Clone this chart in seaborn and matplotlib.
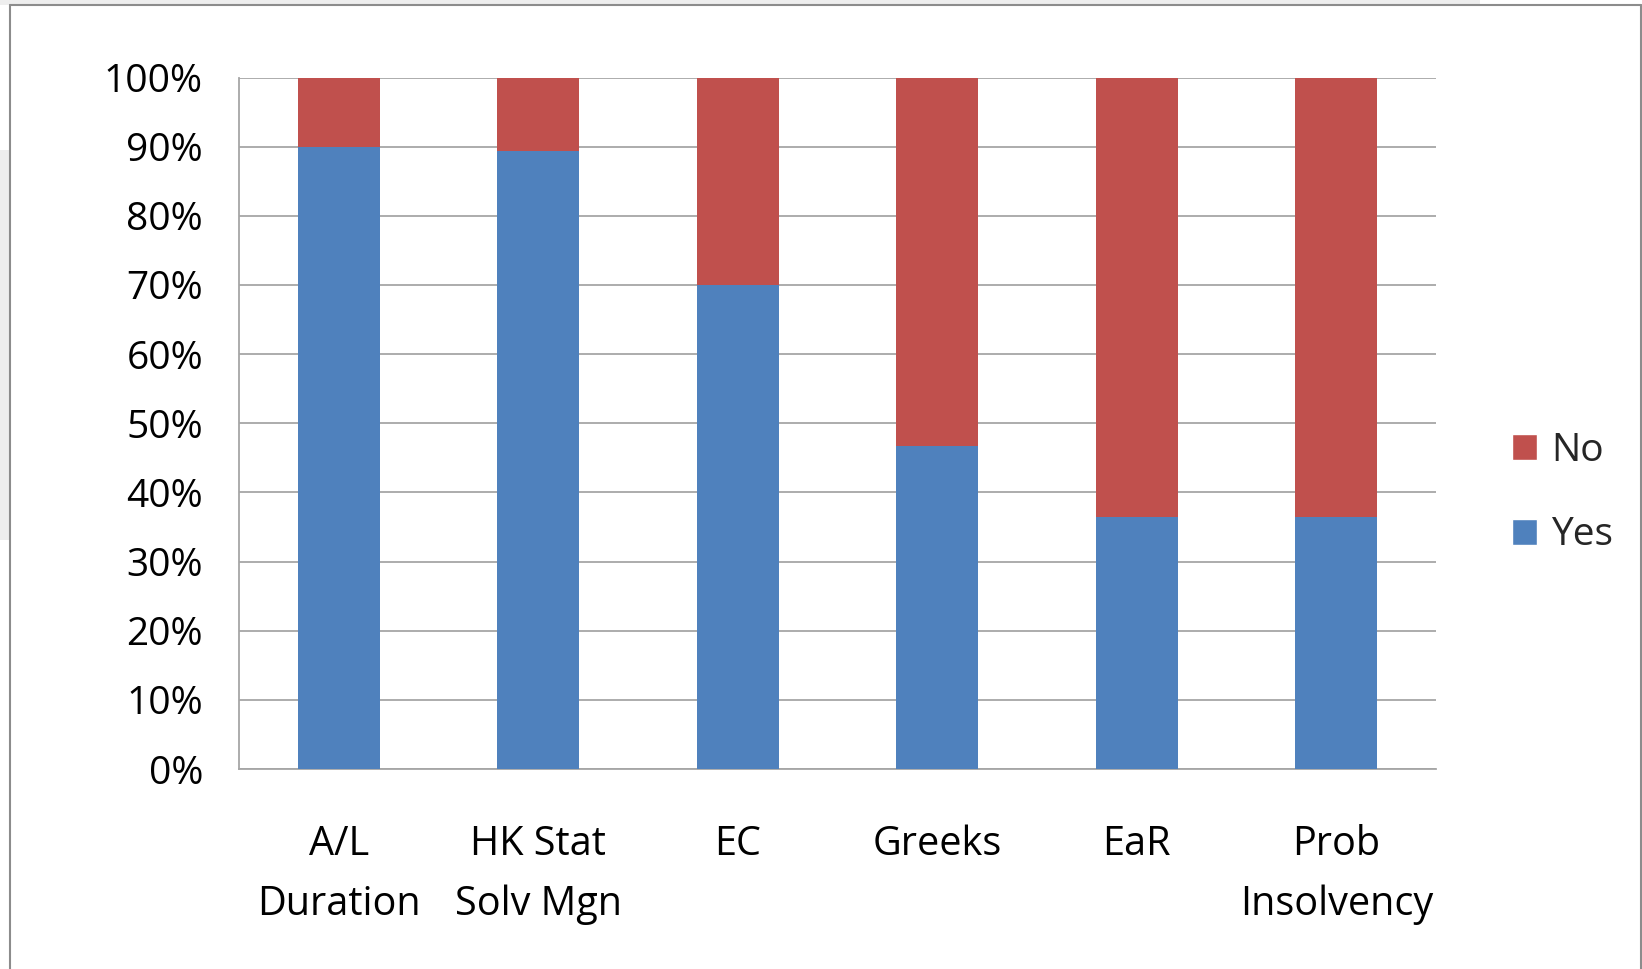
import matplotlib
matplotlib.use("Agg")
import matplotlib.pyplot as plt
from matplotlib.patches import Rectangle, Patch
import seaborn as sns
import pandas as pd
import numpy as np

# Share of respondents using each measure
categories = ["A/L\nDuration", "HK Stat\nSolv Mgn", "EC", "Greeks", "EaR", "Prob\nInsolvency"]
yes_pct = [90.0, 89.3, 70.0, 46.7, 36.5, 36.5]
no_pct = [100 - v for v in yes_pct]
y_ticks = [0, 10, 20, 30, 40, 50, 60, 70, 80, 90, 100]

YES_COLOR = "#4f81bd"
NO_COLOR = "#c0504d"
GRID_COLOR = "#a6a6a6"

sns.set_theme(style="white")
plt.rcParams["font.family"] = ["Open Sans", "DejaVu Sans"]

W, H = 1642, 969
fig = plt.figure(figsize=(W / 100, H / 100), dpi=100)
fig.patch.set_facecolor("white")

# slide background peeking around the chart frame
fig.patches.append(Rectangle((0, 1 - 5 / H), 1480 / W, 5 / H, transform=fig.transFigure,
                             facecolor="#eeeeee", edgecolor="none", zorder=0))
fig.patches.append(Rectangle((0, 1 - 540 / H), 9 / W, (540 - 150) / H, transform=fig.transFigure,
                             facecolor="#eeeeee", edgecolor="none", zorder=0))
# chart frame
fig.add_artist(plt.Line2D([9.5 / W, 9.5 / W], [0, 1 - 5 / H], transform=fig.transFigure,
                          color="#8c8c8c", lw=1.5))
fig.add_artist(plt.Line2D([9.5 / W, 1640.5 / W], [1 - 5 / H, 1 - 5 / H], transform=fig.transFigure,
                          color="#8c8c8c", lw=1.5))
fig.add_artist(plt.Line2D([1640.5 / W, 1640.5 / W], [0, 1 - 5 / H], transform=fig.transFigure,
                          color="#8c8c8c", lw=1.5))

ax = fig.add_axes([239 / W, (H - 769) / H, (1436 - 239) / W, (769 - 77.5) / H])

df = pd.DataFrame({"cat": categories, "Yes": yes_pct, "No": no_pct})
df["total"] = df["Yes"] + df["No"]

sns.barplot(data=df, x="cat", y="total", color=NO_COLOR, width=0.41, saturation=1,
            ax=ax, zorder=3)
sns.barplot(data=df, x="cat", y="Yes", color=YES_COLOR, width=0.41, saturation=1,
            ax=ax, zorder=4)
for p in ax.patches:
    p.set_linewidth(0)

n = len(categories)
ax.set_xlim(-0.5, n - 0.5)
ax.set_ylim(0, 100)
ax.set_yticks(y_ticks)
ax.set_yticklabels([f"{v}%" for v in y_ticks])
ax.yaxis.grid(True, color=GRID_COLOR, lw=1.3, zorder=0)
ax.set_axisbelow(True)

ax.set_xlabel("")
ax.set_ylabel("")
for s in ["top", "right"]:
    ax.spines[s].set_visible(False)
ax.spines["left"].set_color(GRID_COLOR)
ax.spines["bottom"].set_color(GRID_COLOR)
ax.spines["left"].set_linewidth(1.3)
ax.spines["bottom"].set_linewidth(1.3)

ax.tick_params(axis="y", which="major", length=9, width=1.3, color=GRID_COLOR,
               labelsize=28, pad=17, labelcolor="black")
ax.set_xticks(np.arange(-0.5, n, 1.0), minor=True)
ax.tick_params(axis="x", which="minor", length=9, width=1.3, color=GRID_COLOR, direction="out")
ax.tick_params(axis="x", which="major", length=0, labelsize=28.5, pad=40, labelcolor="black")
for lbl in ax.get_xticklabels():
    lbl.set_linespacing(1.65)

handles = [Patch(facecolor=NO_COLOR, label="No"), Patch(facecolor=YES_COLOR, label="Yes")]
fig.legend(handles=handles, loc="center left", bbox_to_anchor=(1512 / W, 1 - 493 / H),
           frameon=False, fontsize=28, handlelength=0.65, handleheight=0.65,
           handletextpad=0.35, labelspacing=1.2, borderpad=0, borderaxespad=0)

fig.savefig("out.png", dpi=100, facecolor=fig.get_facecolor())
